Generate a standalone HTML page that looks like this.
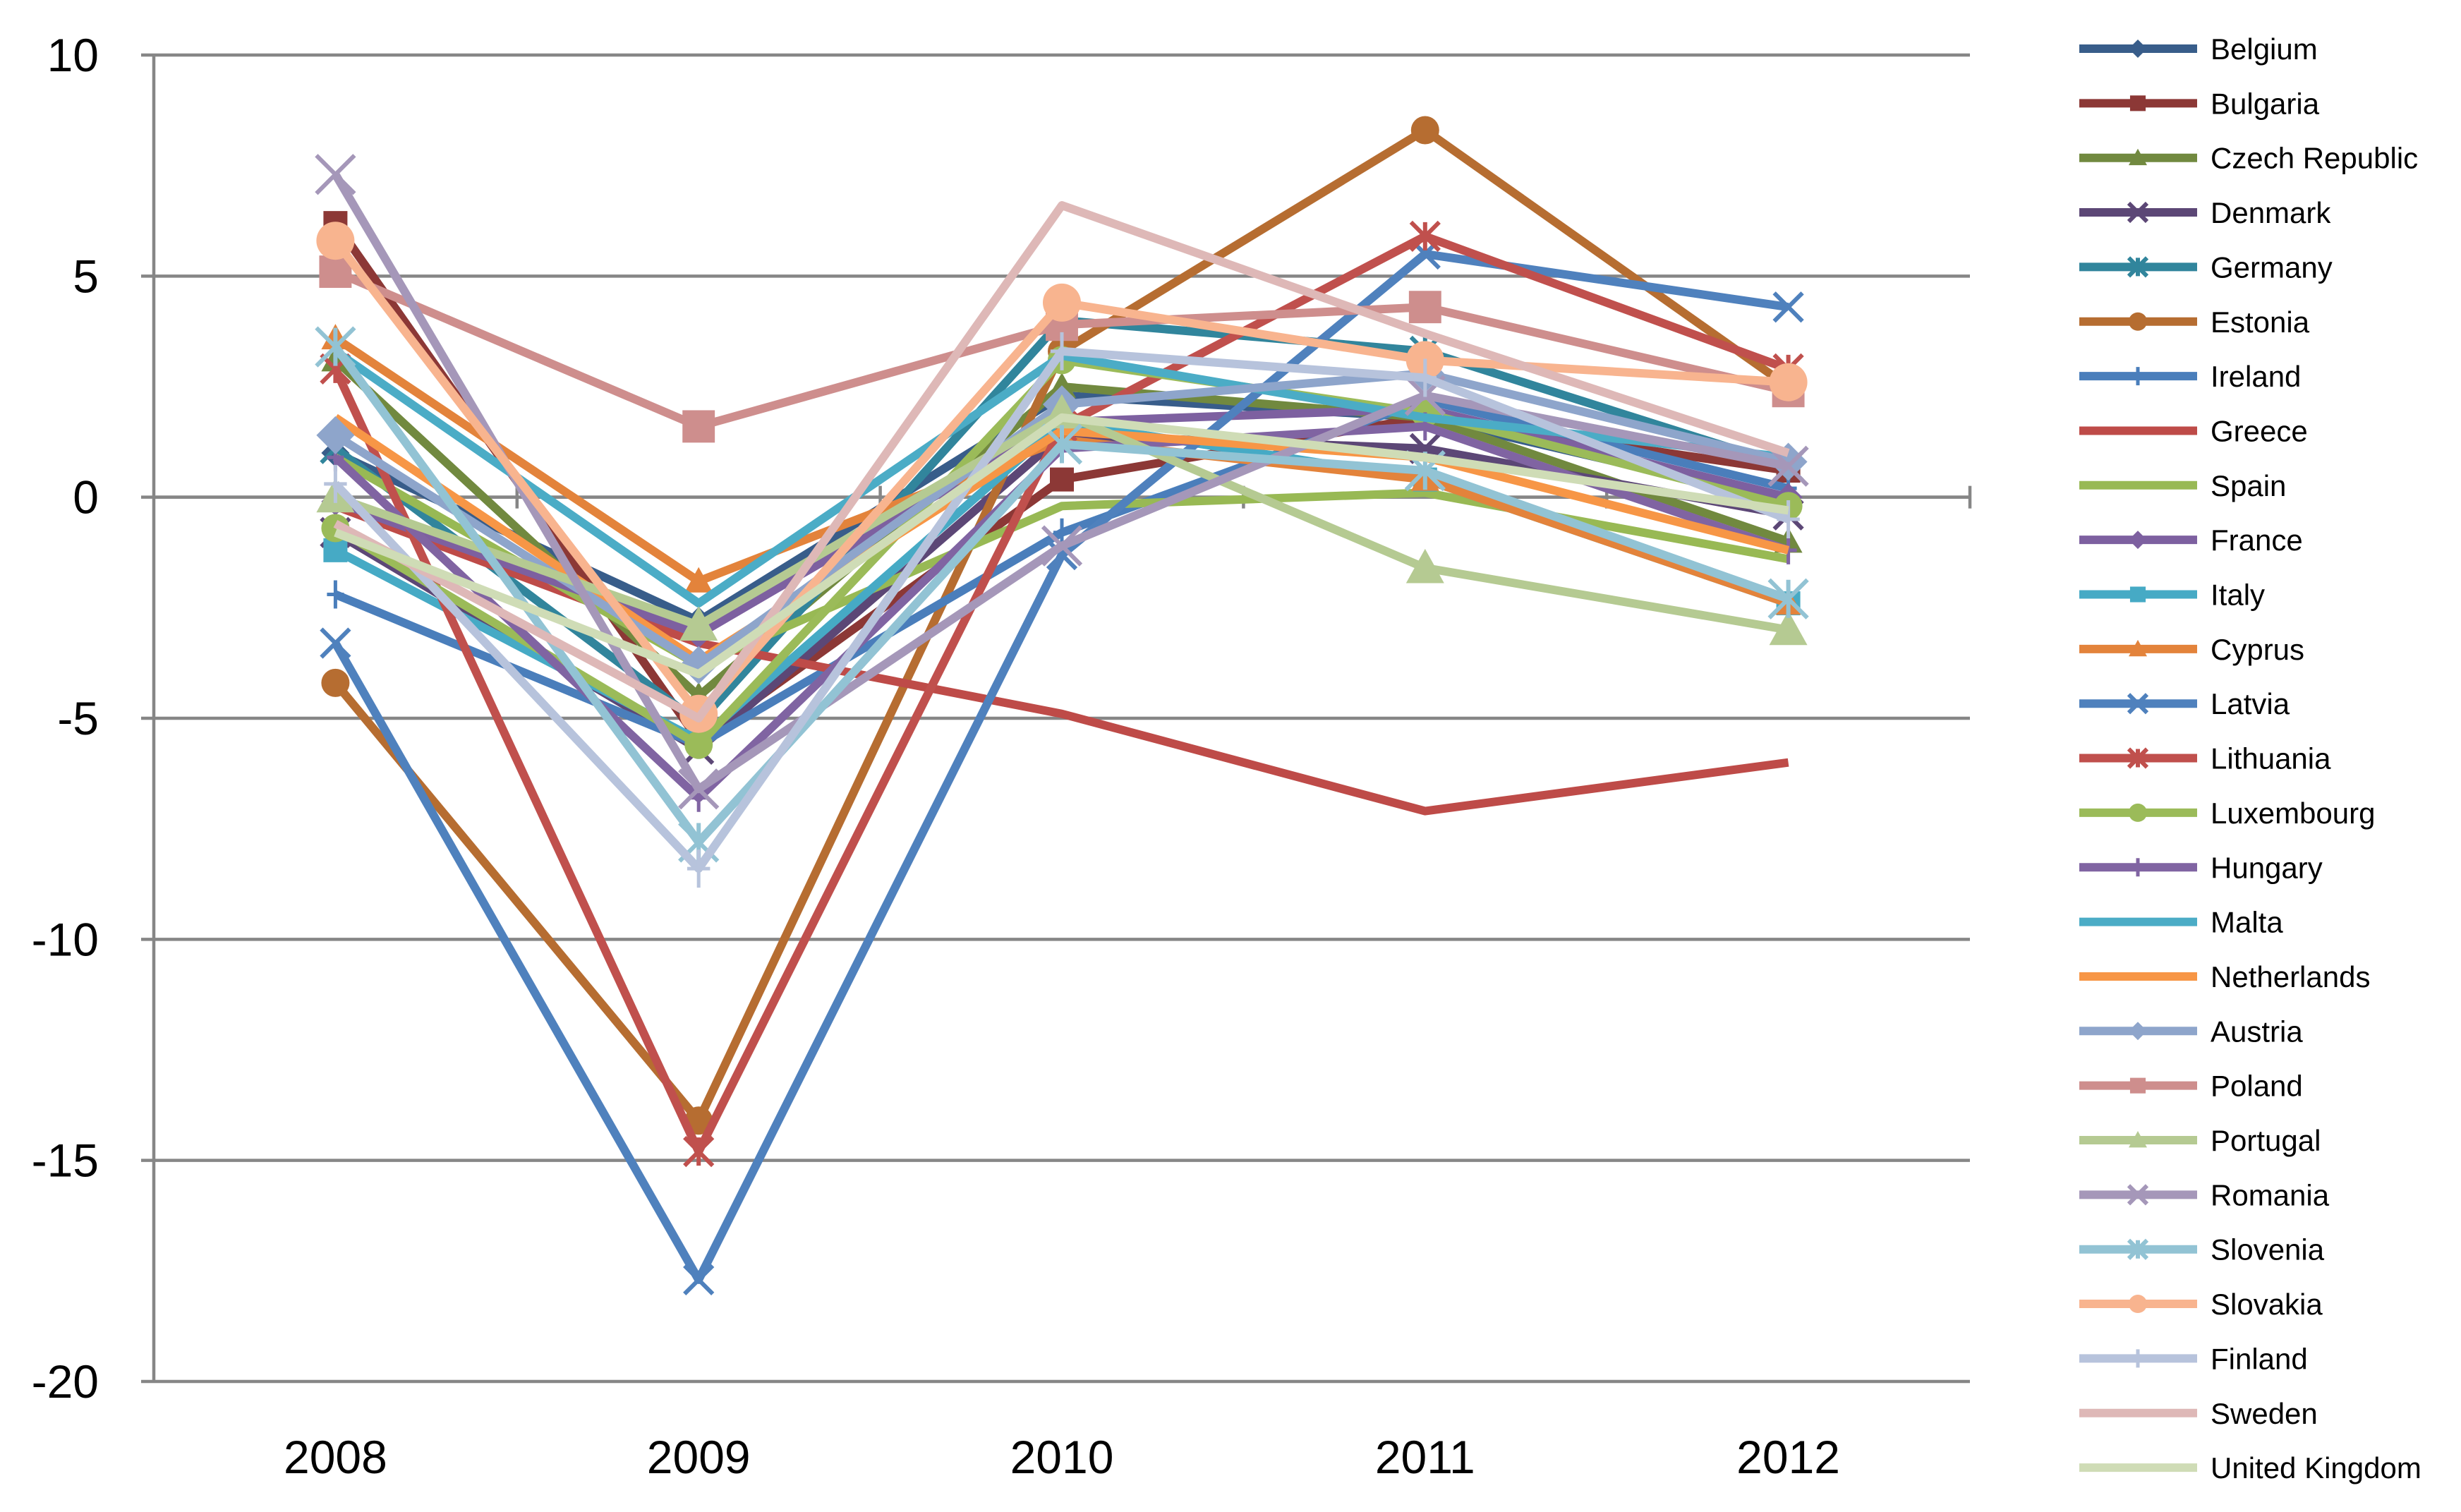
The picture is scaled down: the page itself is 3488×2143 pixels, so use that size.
<!DOCTYPE html>
<html><head><meta charset="utf-8"><style>
html,body{margin:0;padding:0;background:#fff;}
svg{display:block;font-family:"Liberation Sans",sans-serif;}
</style></head><body>
<svg id="chart" width="3488" height="2143" viewBox="0 0 3488 2143" xmlns="http://www.w3.org/2000/svg">
<rect width="3488" height="2143" fill="#fff"/>
<g id="grid"></g><g id="axes"></g><g id="series"></g><g id="legend"></g>
</svg>
<script>
const years = ["2008","2009","2010","2011","2012"];
const yTicks = [10,5,0,-5,-10,-15,-20];
const countries = ["Belgium","Bulgaria","Czech Republic","Denmark","Germany","Estonia","Ireland","Greece","Spain","France","Italy","Cyprus","Latvia","Lithuania","Luxembourg","Hungary","Malta","Netherlands","Austria","Poland","Portugal","Romania","Slovenia","Slovakia","Finland","Sweden","United Kingdom"];
const colors = ["#385D8A","#8C3836","#71893F","#5C4776","#31859C","#B66D31","#4A7EBB","#BE4B48","#98B954","#7D60A0","#46AAC5","#E3833B","#4F81BD","#C0504D","#9BBB59","#8064A2","#4BACC6","#F79646","#8EA5CB","#CE8E8D","#B5CA92","#A597B9","#92C3D4","#F8B48F","#B7C3DC","#DEB8B7","#CFDCB6"];
const vBelgium=[1.0,-2.8,2.3,1.8,-0.1];
const vBulgaria=[6.2,-5.5,0.4,1.8,0.6];
const vCzech=[3.1,-4.5,2.5,1.8,-1.0];
const vDenmark=[-0.8,-5.7,1.4,1.1,-0.4];
const vGermany=[1.1,-5.1,4.0,3.3,0.7];
const vEstonia=[-4.2,-14.1,3.3,8.3,2.5];
const vIreland=[-2.2,-5.6,-0.8,2.2,0.2];
const vGreece=[-0.2,-3.3,-4.9,-7.1,-6.0];
const vSpain=[0.9,-3.8,-0.2,0.1,-1.4];
const vFrance=[-0.1,-3.1,1.7,2.0,0.0];
const vItaly=[-1.2,-5.5,1.7,0.4,-2.4];
const vCyprus=[3.6,-1.9,1.3,0.4,-2.4];
const vLatvia=[-3.3,-17.7,-1.3,5.5,4.3];
const vLithuania=[2.9,-14.8,1.6,5.9,2.9];
const vLuxembourg=[-0.7,-5.6,3.1,1.9,-0.2];
const vHungary=[0.9,-6.8,1.1,1.6,-1.2];
const vMalta=[3.3,-2.4,3.2,1.8,0.9];
const vNetherlands=[1.8,-3.7,1.5,0.9,-1.2];
const vAustria=[1.4,-3.8,2.1,2.8,0.8];
const vPoland=[5.1,1.6,3.9,4.3,2.4];
const vPortugal=[0.0,-2.9,1.9,-1.6,-3.0];
const vRomania=[7.3,-6.6,-1.1,2.3,0.7];
const vSlovenia=[3.4,-7.8,1.2,0.6,-2.3];
const vSlovakia=[5.8,-4.9,4.4,3.1,2.6];
const vFinland=[0.3,-8.4,3.3,2.7,-0.5];
const vSweden=[-0.6,-5.0,6.6,3.7,1.0];
const vUK=[-0.8,-4.0,1.8,0.9,-0.3];
const values=[vBelgium,vBulgaria,vCzech,vDenmark,vGermany,vEstonia,vIreland,vGreece,vSpain,vFrance,vItaly,vCyprus,vLatvia,vLithuania,vLuxembourg,vHungary,vMalta,vNetherlands,vAustria,vPoland,vPortugal,vRomania,vSlovenia,vSlovakia,vFinland,vSweden,vUK];

const NS="http://www.w3.org/2000/svg";
const L=218,R=2792,T=78,B=1958,yMax=10,yMin=-20;
const cw=(R-L)/years.length;
const xS=i=>L+cw*(i+0.5);
const yS=v=>T+(yMax-v)/(yMax-yMin)*(B-T);
function mk(tag,attrs,parent){const e=document.createElementNS(NS,tag);for(const k in attrs)e.setAttribute(k,attrs[k]);parent.appendChild(e);return e;}
const grid=document.getElementById('grid'),axes=document.getElementById('axes'),ser=document.getElementById('series'),leg=document.getElementById('legend');

yTicks.forEach(t=>{
  const g=mk('line',{x1:L,x2:R,y1:yS(t),y2:yS(t),stroke:'#868686','stroke-width':4.5},grid);
  
  
  const tk=mk('line',{x1:L-18,x2:L,y1:yS(t),y2:yS(t),stroke:'#868686','stroke-width':4.5},axes);
  
  
  const tx=mk('text',{x:L-78,y:yS(t)+23,'text-anchor':'end','font-size':66,fill:'#000'},axes);
  tx.textContent=t;
  
  
});
const ya=mk('line',{x1:L,x2:L,y1:T,y2:B,stroke:'#868686','stroke-width':4.5},axes);


const xa=mk('line',{x1:L,x2:R,y1:yS(0),y2:yS(0),stroke:'#868686','stroke-width':4.5},axes);


for(let i=1;i<=years.length;i++){
  const tk=mk('line',{x1:L+cw*i,x2:L+cw*i,y1:yS(0)-16,y2:yS(0)+16,stroke:'#868686','stroke-width':4.5},axes);
  
  
}
years.forEach((y,i)=>{
  const tx=mk('text',{x:xS(i),y:2088,'text-anchor':'middle','font-size':66,fill:'#000'},axes);
  tx.textContent=y;
  
  
});

const shapes=['diamond','square','triangle','x','star','circle','plus','none','none'];
function marker(parent,shape,cx,cy,r,c){
  let e=null;
  if(shape==='diamond')e=mk('polygon',{points:`${cx},${cy-r} ${cx+r},${cy} ${cx},${cy+r} ${cx-r},${cy}`,fill:c},parent);
  else if(shape==='square')e=mk('rect',{x:cx-r*0.85,y:cy-r*0.85,width:r*1.7,height:r*1.7,fill:c},parent);
  else if(shape==='triangle')e=mk('polygon',{points:`${cx},${cy-r} ${cx+r},${cy+r*0.8} ${cx-r},${cy+r*0.8}`,fill:c},parent);
  else if(shape==='circle')e=mk('circle',{cx:cx,cy:cy,r:r,fill:c},parent);
  else if(shape==='x')e=mk('path',{d:`M${cx-r} ${cy-r}L${cx+r} ${cy+r}M${cx-r} ${cy+r}L${cx+r} ${cy-r}`,stroke:c,'stroke-width':6,fill:'none'},parent);
  else if(shape==='star')e=mk('path',{d:`M${cx-r} ${cy-r}L${cx+r} ${cy+r}M${cx-r} ${cy+r}L${cx+r} ${cy-r}M${cx} ${cy-r}L${cx} ${cy+r}`,stroke:c,'stroke-width':6,fill:'none'},parent);
  else if(shape==='plus')e=mk('path',{d:`M${cx-r*0.6} ${cy}L${cx+r*0.6} ${cy}M${cx} ${cy-r}L${cx} ${cy+r}`,stroke:c,'stroke-width':5,fill:'none'},parent);
  if(e){}
}
countries.forEach((c,si)=>{
  const g=mk('g',{},ser);
  
  
  const pts=values[si].map((v,i)=>xS(i)+','+yS(v)).join(' ');
  const pl=mk('polyline',{points:pts,fill:'none',stroke:colors[si],'stroke-width':12,'stroke-linejoin':'round'},g);
  
  
  const r=si>=18?27:20;
  values[si].forEach((v,i)=>marker(g,shapes[si%9],xS(i),yS(v),r,colors[si]));
  const ly=69+si*77.35;
  const lg=mk('g',{},leg);
  
  
  mk('line',{x1:2947,x2:3114,y1:ly,y2:ly,stroke:colors[si],'stroke-width':12},lg);
  marker(lg,shapes[si%9],3030,ly,13,colors[si]);
  const t=mk('text',{x:3133,y:ly+15,'font-size':42,fill:'#000'},lg);
  t.textContent=c;
});
</script>
</body></html>
